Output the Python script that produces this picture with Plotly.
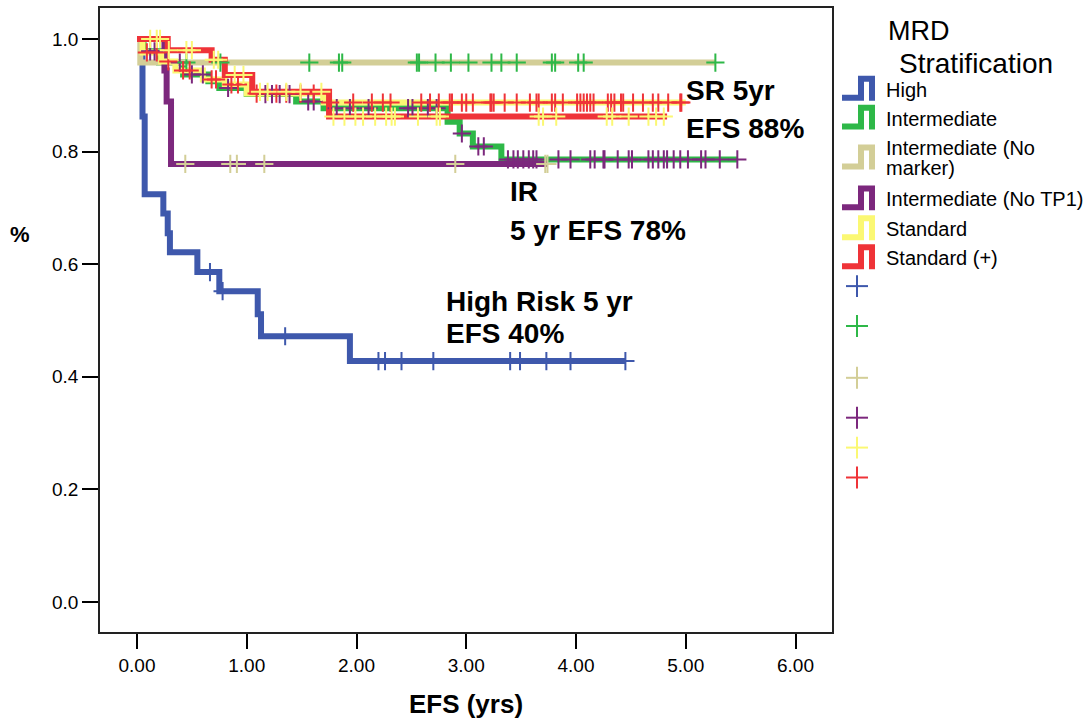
import plotly.graph_objects as go

# ---------------- Kaplan-Meier step data (years, event-free survival) ----------------
groups = ["High", "Intermediate", "Intermediate (No marker)",
          "Intermediate (No TP1)", "Standard", "Standard (+)"]

high_t = [0.0, 0.05, 0.07, 0.24, 0.28, 0.30, 0.55, 0.75, 1.10, 1.13, 1.94]
high_s = [1.0, 0.862, 0.724, 0.690, 0.655, 0.621, 0.586, 0.552, 0.511, 0.472, 0.428]
high_end = 4.45
high_cens = [0.665, 0.78, 1.35, 2.20, 2.26, 2.41, 2.70, 3.40, 3.49, 3.73, 3.95, 4.45]

inter_t = [0.0, 0.06, 0.20, 0.42, 0.65, 0.75, 1.00, 1.45, 1.70, 2.83, 2.94, 3.06, 3.32]
inter_s = [1.0, 0.978, 0.958, 0.937, 0.925, 0.913, 0.902, 0.889, 0.877, 0.853, 0.832, 0.809, 0.786]
inter_end = 5.47
inter_cens = [0.12, 0.16, 0.39, 0.50, 0.60, 0.83, 1.17, 1.23, 1.30, 1.39, 1.56, 1.61,
              1.82, 1.94, 2.11, 2.47, 2.51, 2.65, 2.73, 2.96, 3.11, 3.16, 3.38, 3.43,
              3.47, 3.52, 3.57, 3.61, 3.64, 3.84, 3.95, 4.13, 4.17, 4.25, 4.26, 4.38,
              4.48, 4.51, 4.66, 4.70, 4.75, 4.80, 4.83, 4.89, 4.95, 5.02, 5.14, 5.18,
              5.31, 5.47]

nomark_t = [0.0, 0.03]
nomark_s = [1.0, 0.958]
nomark_end = 5.27
nomark_cens = [0.45, 0.76, 1.57, 1.84, 1.87, 2.55, 2.57, 2.72, 2.86, 3.02, 3.23, 3.32,
               3.46, 3.78, 3.81, 4.02, 4.07, 5.27]

notp1_t = [0.0, 0.25, 0.27, 0.31]
notp1_s = [1.0, 0.944, 0.889, 0.778]
notp1_end = 3.74
notp1_cens = [0.44, 0.85, 0.91, 1.16, 2.90, 3.72, 3.74]

std_t = [0.0, 0.05, 0.22, 0.35, 0.60, 0.80, 1.00, 1.70]
std_s = [1.0, 0.976, 0.960, 0.944, 0.928, 0.919, 0.903, 0.887]
std_end = 5.00
std_cens = [0.09, 0.18, 0.285, 0.42, 0.48, 0.68, 0.72, 0.86, 0.92, 1.09, 1.27, 1.36,
            1.49, 1.61, 1.76, 1.97, 2.14, 2.24, 2.31, 2.59, 2.67, 2.75, 2.85, 2.87,
            2.96, 3.00, 3.06, 3.22, 3.23, 3.25, 3.35, 3.46, 3.58, 3.64, 3.66, 3.78,
            3.81, 3.88, 4.01, 4.04, 4.07, 4.10, 4.13, 4.16, 4.29, 4.32, 4.35, 4.41,
            4.43, 4.52, 4.61, 4.70, 4.75, 4.84, 4.95, 4.96]

stdp_t = [0.0, 0.28, 0.68, 0.80, 1.05, 1.75]
stdp_s = [1.0, 0.980, 0.963, 0.936, 0.906, 0.862]
stdp_end = 4.83
stdp_cens = [0.12, 0.18, 0.21, 0.29, 0.45, 0.50, 0.70, 0.74, 0.89, 0.97, 1.12, 1.19,
             1.36, 1.49, 1.68, 1.79, 1.89, 1.99, 2.06, 2.17, 2.27, 2.32, 2.35, 2.56,
             2.73, 2.76, 3.66, 3.70, 3.82, 4.28, 4.33, 4.48, 4.66, 4.73, 4.80]

x_ticks = [0, 1, 2, 3, 4, 5, 6]
y_ticks = [0.0, 0.2, 0.4, 0.6, 0.8, 1.0]

# ---------------- styling ----------------
BLUE, GREEN, KHAKI = "#3e58ac", "#2eb848", "#d3ce97"
PURPLE, YELLOW, RED = "#7c287d", "#fbf873", "#ef3338"
FONT = "Arial, 'Liberation Sans', sans-serif"

# curve: (name, times, survival, end, censor times, line colour, censor colour)
curves = [
    ("High", high_t, high_s, high_end, high_cens, BLUE, BLUE),
    ("Intermediate", inter_t, inter_s, inter_end, inter_cens, GREEN, PURPLE),
    ("Intermediate (No marker)", nomark_t, nomark_s, nomark_end, nomark_cens, KHAKI, GREEN),
    ("Intermediate (No TP1)", notp1_t, notp1_s, notp1_end, notp1_cens, PURPLE, KHAKI),
    ("Standard", std_t, std_s, std_end, std_cens, YELLOW, RED),
    ("Standard (+)", stdp_t, stdp_s, stdp_end, stdp_cens, RED, YELLOW),
]


def surv_at(times, surv, t):
    val = surv[0]
    for ti, si in zip(times, surv):
        if ti <= t:
            val = si
    return val


fig = go.Figure()

for name, t, s, end, cens, lc, cc in curves:
    fig.add_trace(go.Scatter(
        x=list(t) + [end], y=list(s) + [s[-1]], mode="lines", name=name,
        line=dict(color=lc, width=6, shape="hv"), showlegend=False,
        hoverinfo="skip"))

for name, t, s, end, cens, lc, cc in curves:
    fig.add_trace(go.Scatter(
        x=cens, y=[surv_at(t, s, c) for c in cens], mode="markers",
        name=name + " censored",
        marker=dict(symbol="cross-thin", size=13, line=dict(width=2, color=cc)),
        showlegend=False, hoverinfo="skip"))

# plot area in page pixels
PL, PR, PT, PB = 100, 832, 6, 632


def fx(x):
    return (x - PL) / (PR - PL)


def fy(y):
    return (PB - y) / (PB - PT)


shapes = []
annotations = []

# legend title
annotations.append(dict(x=fx(886), y=fy(29), xref="paper", yref="paper", text="MRD",
                        showarrow=False, xanchor="left", yanchor="middle",
                        font=dict(family=FONT, size=27, color="black")))
annotations.append(dict(x=fx(897), y=fy(62), xref="paper", yref="paper",
                        text="Stratification", showarrow=False, xanchor="left",
                        yanchor="middle", font=dict(family=FONT, size=28, color="black")))

# legend rows: step-shaped icon + label
legend_rows = [
    (["High"], BLUE, 87),
    (["Intermediate"], GREEN, 116),
    (["Intermediate (No", "marker)"], KHAKI, 156),
    (["Intermediate (No TP1)"], PURPLE, 197),
    (["Standard"], YELLOW, 227),
    (["Standard (+)"], RED, 256),
]
for lines, col, cy in legend_rows:
    bot, top = cy + 9, cy - 10
    path = (f"M {fx(842)},{fy(bot)} L {fx(861)},{fy(bot)} L {fx(861)},{fy(top)} "
            f"L {fx(872)},{fy(top)} L {fx(872)},{fy(bot + 3)}")
    shapes.append(dict(type="path", path=path, xref="paper", yref="paper",
                       line=dict(color=col, width=6)))
    if len(lines) == 1:
        ys = [cy + 1]
    else:
        ys = [cy - 10, cy + 11]
    for txt, ty in zip(lines, ys):
        annotations.append(dict(x=fx(884), y=fy(ty), xref="paper", yref="paper",
                                text=txt, showarrow=False, xanchor="left",
                                yanchor="middle",
                                font=dict(family=FONT, size=20, color="black")))

# legend rows: censor crosses
for col, cy in [(BLUE, 285), (GREEN, 325), (KHAKI, 377),
                (PURPLE, 417), (YELLOW, 447), (RED, 477)]:
    shapes.append(dict(type="line", xref="paper", yref="paper",
                       x0=fx(846), x1=fx(868), y0=fy(cy), y1=fy(cy),
                       line=dict(color=col, width=2)))
    shapes.append(dict(type="line", xref="paper", yref="paper",
                       x0=fx(857), x1=fx(857), y0=fy(cy - 11), y1=fy(cy + 11),
                       line=dict(color=col, width=2)))

# in-plot labels
lab_font = dict(family=FONT, size=28, color="black", weight="bold")
for txt, x, y in [("SR 5yr", 684, 89), ("EFS 88%", 684, 127),
                  ("IR", 508, 190), ("5 yr EFS 78%", 508, 229),
                  ("High Risk 5 yr", 444, 300), ("EFS 40%", 444, 333)]:
    annotations.append(dict(x=fx(x), y=fy(y), xref="paper", yref="paper", text=txt,
                            showarrow=False, xanchor="left", yanchor="middle",
                            font=lab_font))

# y-axis title
annotations.append(dict(x=fx(20), y=fy(233), xref="paper", yref="paper", text="%",
                        showarrow=False, xanchor="center", yanchor="middle",
                        font=dict(family=FONT, size=22, color="black", weight="bold")))

x0 = (PL - 137) / 109.75
x1 = (PR - 137) / 109.75
y0 = (602 - PB) / 565.0
y1 = (602 - PT) / 565.0

fig.update_layout(
    width=1090, height=723,
    margin=dict(l=PL, r=1090 - PR, t=PT, b=723 - PB),
    paper_bgcolor="white", plot_bgcolor="white",
    font=dict(family=FONT, color="black"),
    shapes=shapes, annotations=annotations, showlegend=False,
    xaxis=dict(range=[x0, x1], tickvals=x_ticks,
               ticktext=[f"{v:.2f}" for v in x_ticks],
               ticks="outside", ticklen=15, tickwidth=2, tickcolor="black",
               showline=True, mirror=True, linecolor="#222", linewidth=1.5,
               showgrid=False, zeroline=False,
               tickfont=dict(family=FONT, size=19, color="black"),
               title=dict(text="<b>EFS (yrs)</b>", standoff=20,
                          font=dict(family=FONT, size=26, color="black"))),
    yaxis=dict(range=[y0, y1], tickvals=y_ticks,
               ticktext=[f"{v:.1f}" for v in y_ticks],
               ticks="outside", ticklen=16, tickwidth=2, tickcolor="black",
               showline=True, mirror=True, linecolor="#222", linewidth=1.5,
               showgrid=False, zeroline=False,
               tickfont=dict(family=FONT, size=19, color="black")),
)

fig.write_html("out.html")
